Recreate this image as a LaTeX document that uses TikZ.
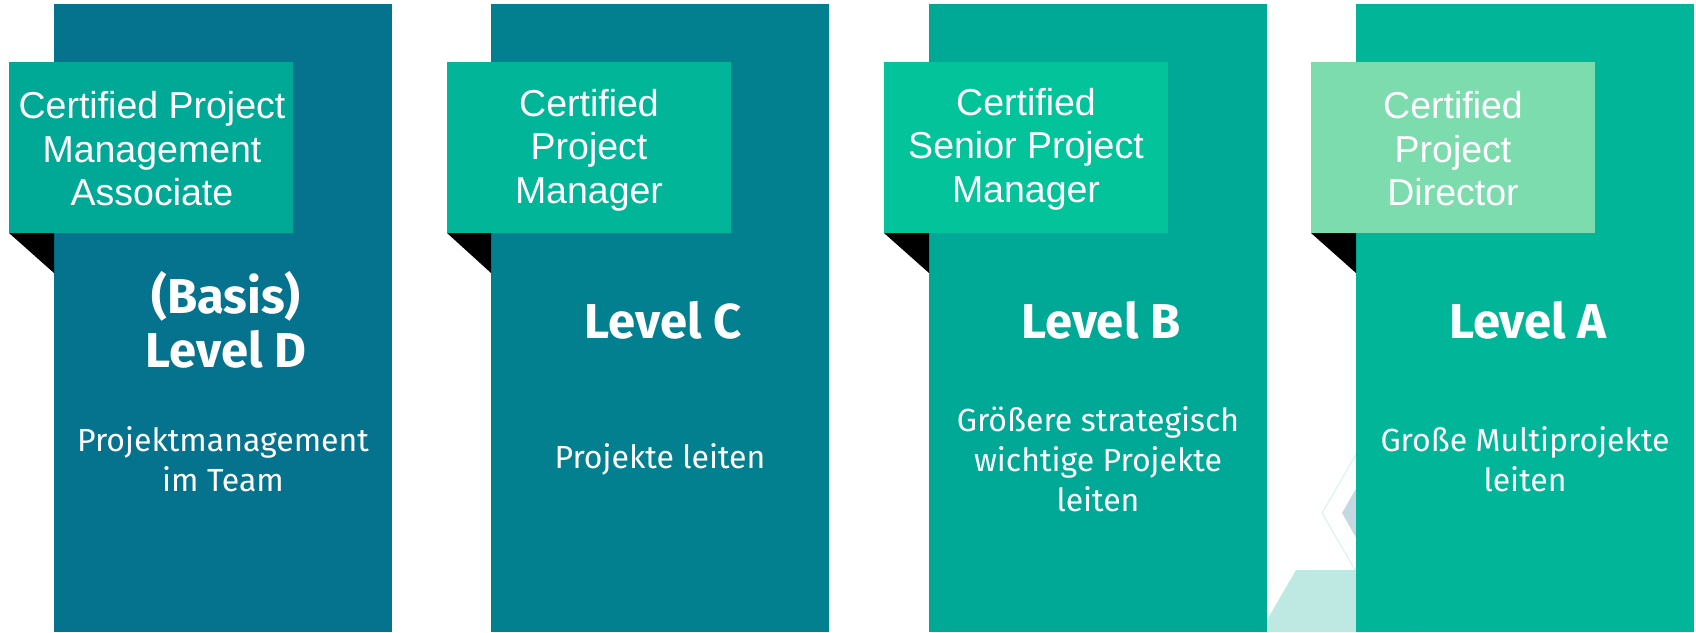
\documentclass[tikz,border=0pt]{standalone}
\usepackage{fontspec}
\setmainfont{Liberation Sans}
\newfontfamily\fira{Fira Sans}
\definecolor{colA}{HTML}{05728E}
\definecolor{colB}{HTML}{028090}
\definecolor{colC}{HTML}{00A896}
\definecolor{colD}{HTML}{00B598}
\definecolor{labA}{HTML}{00A896}
\definecolor{labB}{HTML}{00B598}
\definecolor{labC}{HTML}{02C39A}
\definecolor{labD}{HTML}{7CDCAE}
\definecolor{hexgray}{HTML}{C5D8E2}
\definecolor{hexteal}{HTML}{BEE8E2}
\definecolor{hexline}{HTML}{D5F2EC}
\tikzset{
  certtext/.style={text=white, align=center, inner sep=0pt, font=\fontsize{37.5}{43.5}\selectfont},
  leveltext/.style={text=white, align=center, inner sep=0pt, font=\fira\bfseries\fontsize{49}{54}\selectfont},
  desctext/.style={text=white, align=center, inner sep=0pt, font=\fira\fontsize{32}{40}\selectfont},
}
\begin{document}
\begin{tikzpicture}[x=1pt,y=-1pt]
\useasboundingbox (0,0) rectangle (1696,632);
% background decoration
\draw[hexline, line width=1pt] (1380,413) -- (1322,513) -- (1380,613);
\fill[hexgray] (1342,513) -- (1380,447) -- (1420,447) -- (1420,580) -- (1380,580) -- cycle;
\fill[hexteal] (1296,570) -- (1420,570) -- (1420,632) -- (1260,632) -- cycle;
% columns
\fill[colA] (54,4) rectangle (392,632);
\fill[colB] (491,4) rectangle (829,632);
\fill[colC] (929,4) rectangle (1267,632);
\fill[colD] (1356,4) rectangle (1694,632);
% fold triangles
\fill[black] (9,233) -- (54,233) -- (54,273) -- cycle;
\fill[black] (447,233) -- (491,233) -- (491,273) -- cycle;
\fill[black] (884,233) -- (929,233) -- (929,273) -- cycle;
\fill[black] (1311,233) -- (1356,233) -- (1356,273) -- cycle;
% certificate labels
\fill[labA] (9,62) rectangle (293,233);
\fill[labB] (447,62) rectangle (731,233);
\fill[labC] (884,62) rectangle (1168,233);
\fill[labD] (1311,62) rectangle (1595,233);
\node[certtext] (c1) at (152,149) {Certified Project\\Management\\Associate};
\node[certtext] (c2) at (589,150) {Certified\\Project\\Manager};
\node[certtext] (c3) at (1026,149) {Certified\\Senior Project\\Manager};
\node[certtext] (c4) at (1453,149) {Certified\\Project\\Director};
% levels
\node[leveltext] (v1) at (226,320) {(Basis)\\Level D};
\node[leveltext] (v2) at (663,320) {Level C};
\node[leveltext] (v3) at (1101,320) {Level B};
\node[leveltext] (v4) at (1528,320) {Level A};
% descriptions
\node[desctext] (d1) at (223,459) {Projektmanagement\\im Team};
\node[desctext] (d2) at (660,459) {Projekte leiten};
\node[desctext] (d3) at (1098,459) {Größere strategisch\\wichtige Projekte\\leiten};
\node[desctext] (d4) at (1525,459) {Große Multiprojekte\\leiten};
\end{tikzpicture}
\end{document}
